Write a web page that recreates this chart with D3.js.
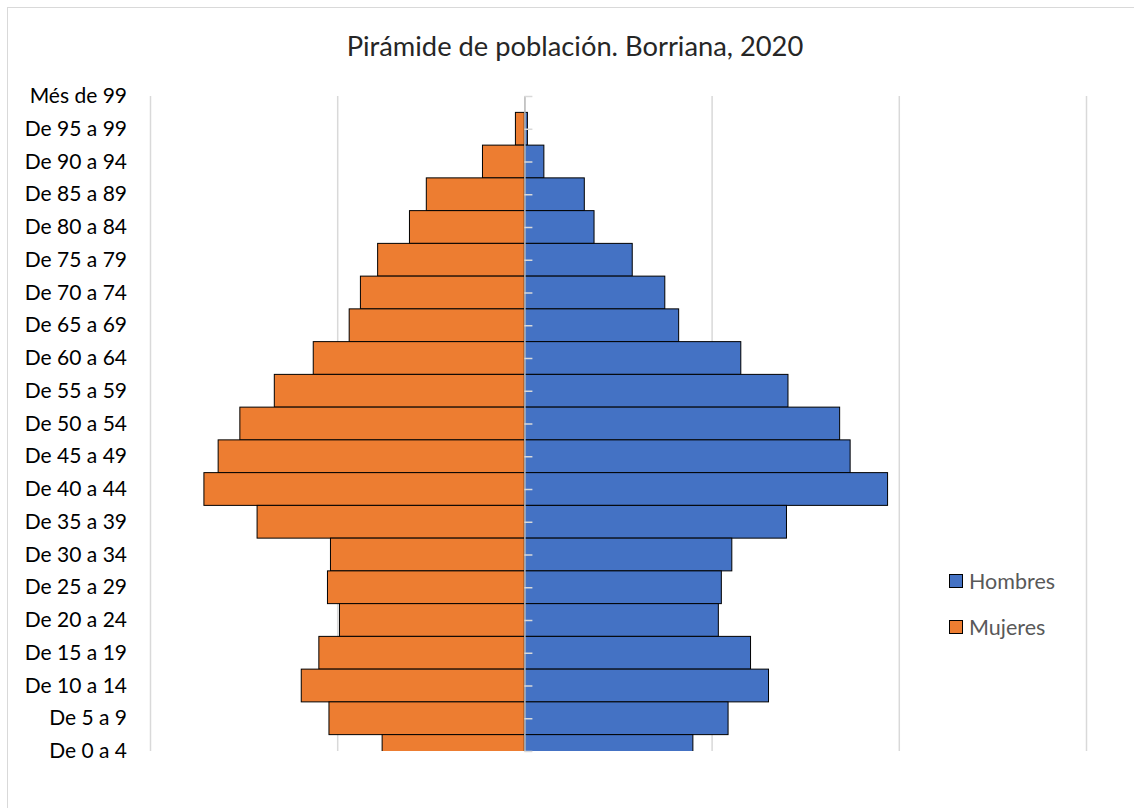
<!DOCTYPE html>
<html>
    <head>
        <meta charset="utf-8">
        <title>Pirámide de población. Borriana, 2020</title>
        <script src="https://d3js.org/d3.v7.min.js"></script>
        <style>
            body { margin: 0; background: #fff; }
            text { font-family: Lato, "Open Sans", sans-serif; }
        </style>
    </head>
    <body>
        <svg width="1134" height="808"></svg>
        <script>
            // datos (% sobre la población total)
            const categories = ["Més de 99", "De 95 a 99", "De 90 a 94", "De 85 a 89", "De 80 a 84",
                "De 75 a 79", "De 70 a 74", "De 65 a 69", "De 60 a 64", "De 55 a 59", "De 50 a 54",
                "De 45 a 49", "De 40 a 44", "De 35 a 39", "De 30 a 34", "De 25 a 29", "De 20 a 24",
                "De 15 a 19", "De 10 a 14", "De 5 a 9", "De 0 a 4"];
            const hombres = [0, 0.04, 0.26, 0.80, 0.93, 1.44, 1.875, 2.06, 2.89, 3.52, 4.21,
                4.35, 4.85, 3.50, 2.77, 2.63, 2.59, 3.02, 3.26, 2.72, 2.25];
            const mujeres = [0, 0.12, 0.56, 1.31, 1.535, 1.96, 2.19, 2.34, 2.82, 3.34, 3.80,
                4.09, 4.28, 3.57, 2.59, 2.63, 2.47, 2.745, 2.98, 2.61, 1.90];
            const gridTicks = [-5, -2.5, 0, 2.5, 5, 7.5];
            const series = [
                { name: "Hombres", values: hombres, color: "#4472C4" },
                { name: "Mujeres", values: mujeres, color: "#ED7D31" }
            ];

            const svg = d3.select("svg");
            const plot = { left: 150, right: 1086, top: 96, bottom: 751 };

            // marco del gráfico
            svg.append("rect")
                .attr("x", 7.5).attr("y", 7.5)
                .attr("width", 1200).attr("height", 900)
                .attr("fill", "#fff").attr("stroke", "#d9d9d9");

            // título
            svg.append("text")
                .attr("x", 575).attr("y", 56)
                .attr("text-anchor", "middle")
                .attr("font-size", 27.3)
                .attr("fill", "#262626")
                .text("Pirámide de población. Borriana, 2020");

            const x = d3.scaleLinear().domain([-5, 7.5]).range([plot.left, plot.right]);
            const y = d3.scalePoint().domain(categories).range([plot.top, plot.bottom]);
            const band = y.step();

            // líneas de cuadrícula
            svg.append("g")
                .attr("transform", `translate(0,${plot.bottom})`)
                .call(d3.axisBottom(x).tickValues(gridTicks).tickFormat("")
                    .tickSize(-(plot.bottom - plot.top)).tickSizeOuter(0))
                .call(g => g.select(".domain").remove())
                .call(g => g.selectAll(".tick line").attr("stroke", "#d9d9d9").attr("stroke-width", 1.5));

            // barras
            svg.append("clipPath").attr("id", "clip")
                .append("rect")
                .attr("x", plot.left).attr("y", plot.top)
                .attr("width", plot.right - plot.left).attr("height", plot.bottom - plot.top);

            const bars = svg.append("g").attr("clip-path", "url(#clip)");

            bars.selectAll(".mujer")
                .data(categories)
                .join("rect")
                .attr("class", "mujer")
                .attr("x", (d, i) => x(-mujeres[i]))
                .attr("y", d => y(d) - band / 2)
                .attr("width", (d, i) => x(0) - x(-mujeres[i]))
                .attr("height", band)
                .attr("fill", "#ED7D31")
                .attr("stroke", (d, i) => mujeres[i] > 0 ? "#000" : "none")
                .attr("stroke-width", 1);

            bars.selectAll(".hombre")
                .data(categories)
                .join("rect")
                .attr("class", "hombre")
                .attr("x", x(0))
                .attr("y", d => y(d) - band / 2)
                .attr("width", (d, i) => x(hombres[i]) - x(0))
                .attr("height", band)
                .attr("fill", "#4472C4")
                .attr("stroke", (d, i) => hombres[i] > 0 ? "#000" : "none")
                .attr("stroke-width", 1);

            // eje vertical en el cero
            svg.append("g")
                .attr("transform", `translate(${x(0)},0)`)
                .call(d3.axisRight(y).tickFormat("").tickSize(8).tickSizeOuter(0))
                .call(g => g.select(".domain").attr("stroke", "#bfbfbf").attr("stroke-width", 1.5))
                .call(g => g.selectAll(".tick line").attr("stroke", "#d9d9d9").attr("stroke-width", 1.5));

            // etiquetas de categorías
            svg.append("g")
                .attr("transform", `translate(${plot.left},0)`)
                .call(d3.axisLeft(y).tickSize(0).tickPadding(23))
                .call(g => g.select(".domain").remove())
                .call(g => g.selectAll("text")
                    .attr("font-size", 21)
                    .attr("font-family", "Lato, sans-serif")
                    .attr("fill", "#000"));

            // leyenda
            const legend = svg.append("g").attr("transform", "translate(949,581)");
            const item = legend.selectAll("g")
                .data(series)
                .join("g")
                .attr("transform", (d, i) => `translate(0,${i * 46})`);
            item.append("rect")
                .attr("x", 0.5).attr("y", -6.5)
                .attr("width", 13).attr("height", 13)
                .attr("fill", d => d.color)
                .attr("stroke", "#000");
            item.append("text")
                .attr("x", 20).attr("y", 0)
                .attr("dy", "0.35em")
                .attr("font-size", 21.5)
                .attr("fill", "#595959")
                .text(d => d.name);
        </script>
    </body>
</html>
